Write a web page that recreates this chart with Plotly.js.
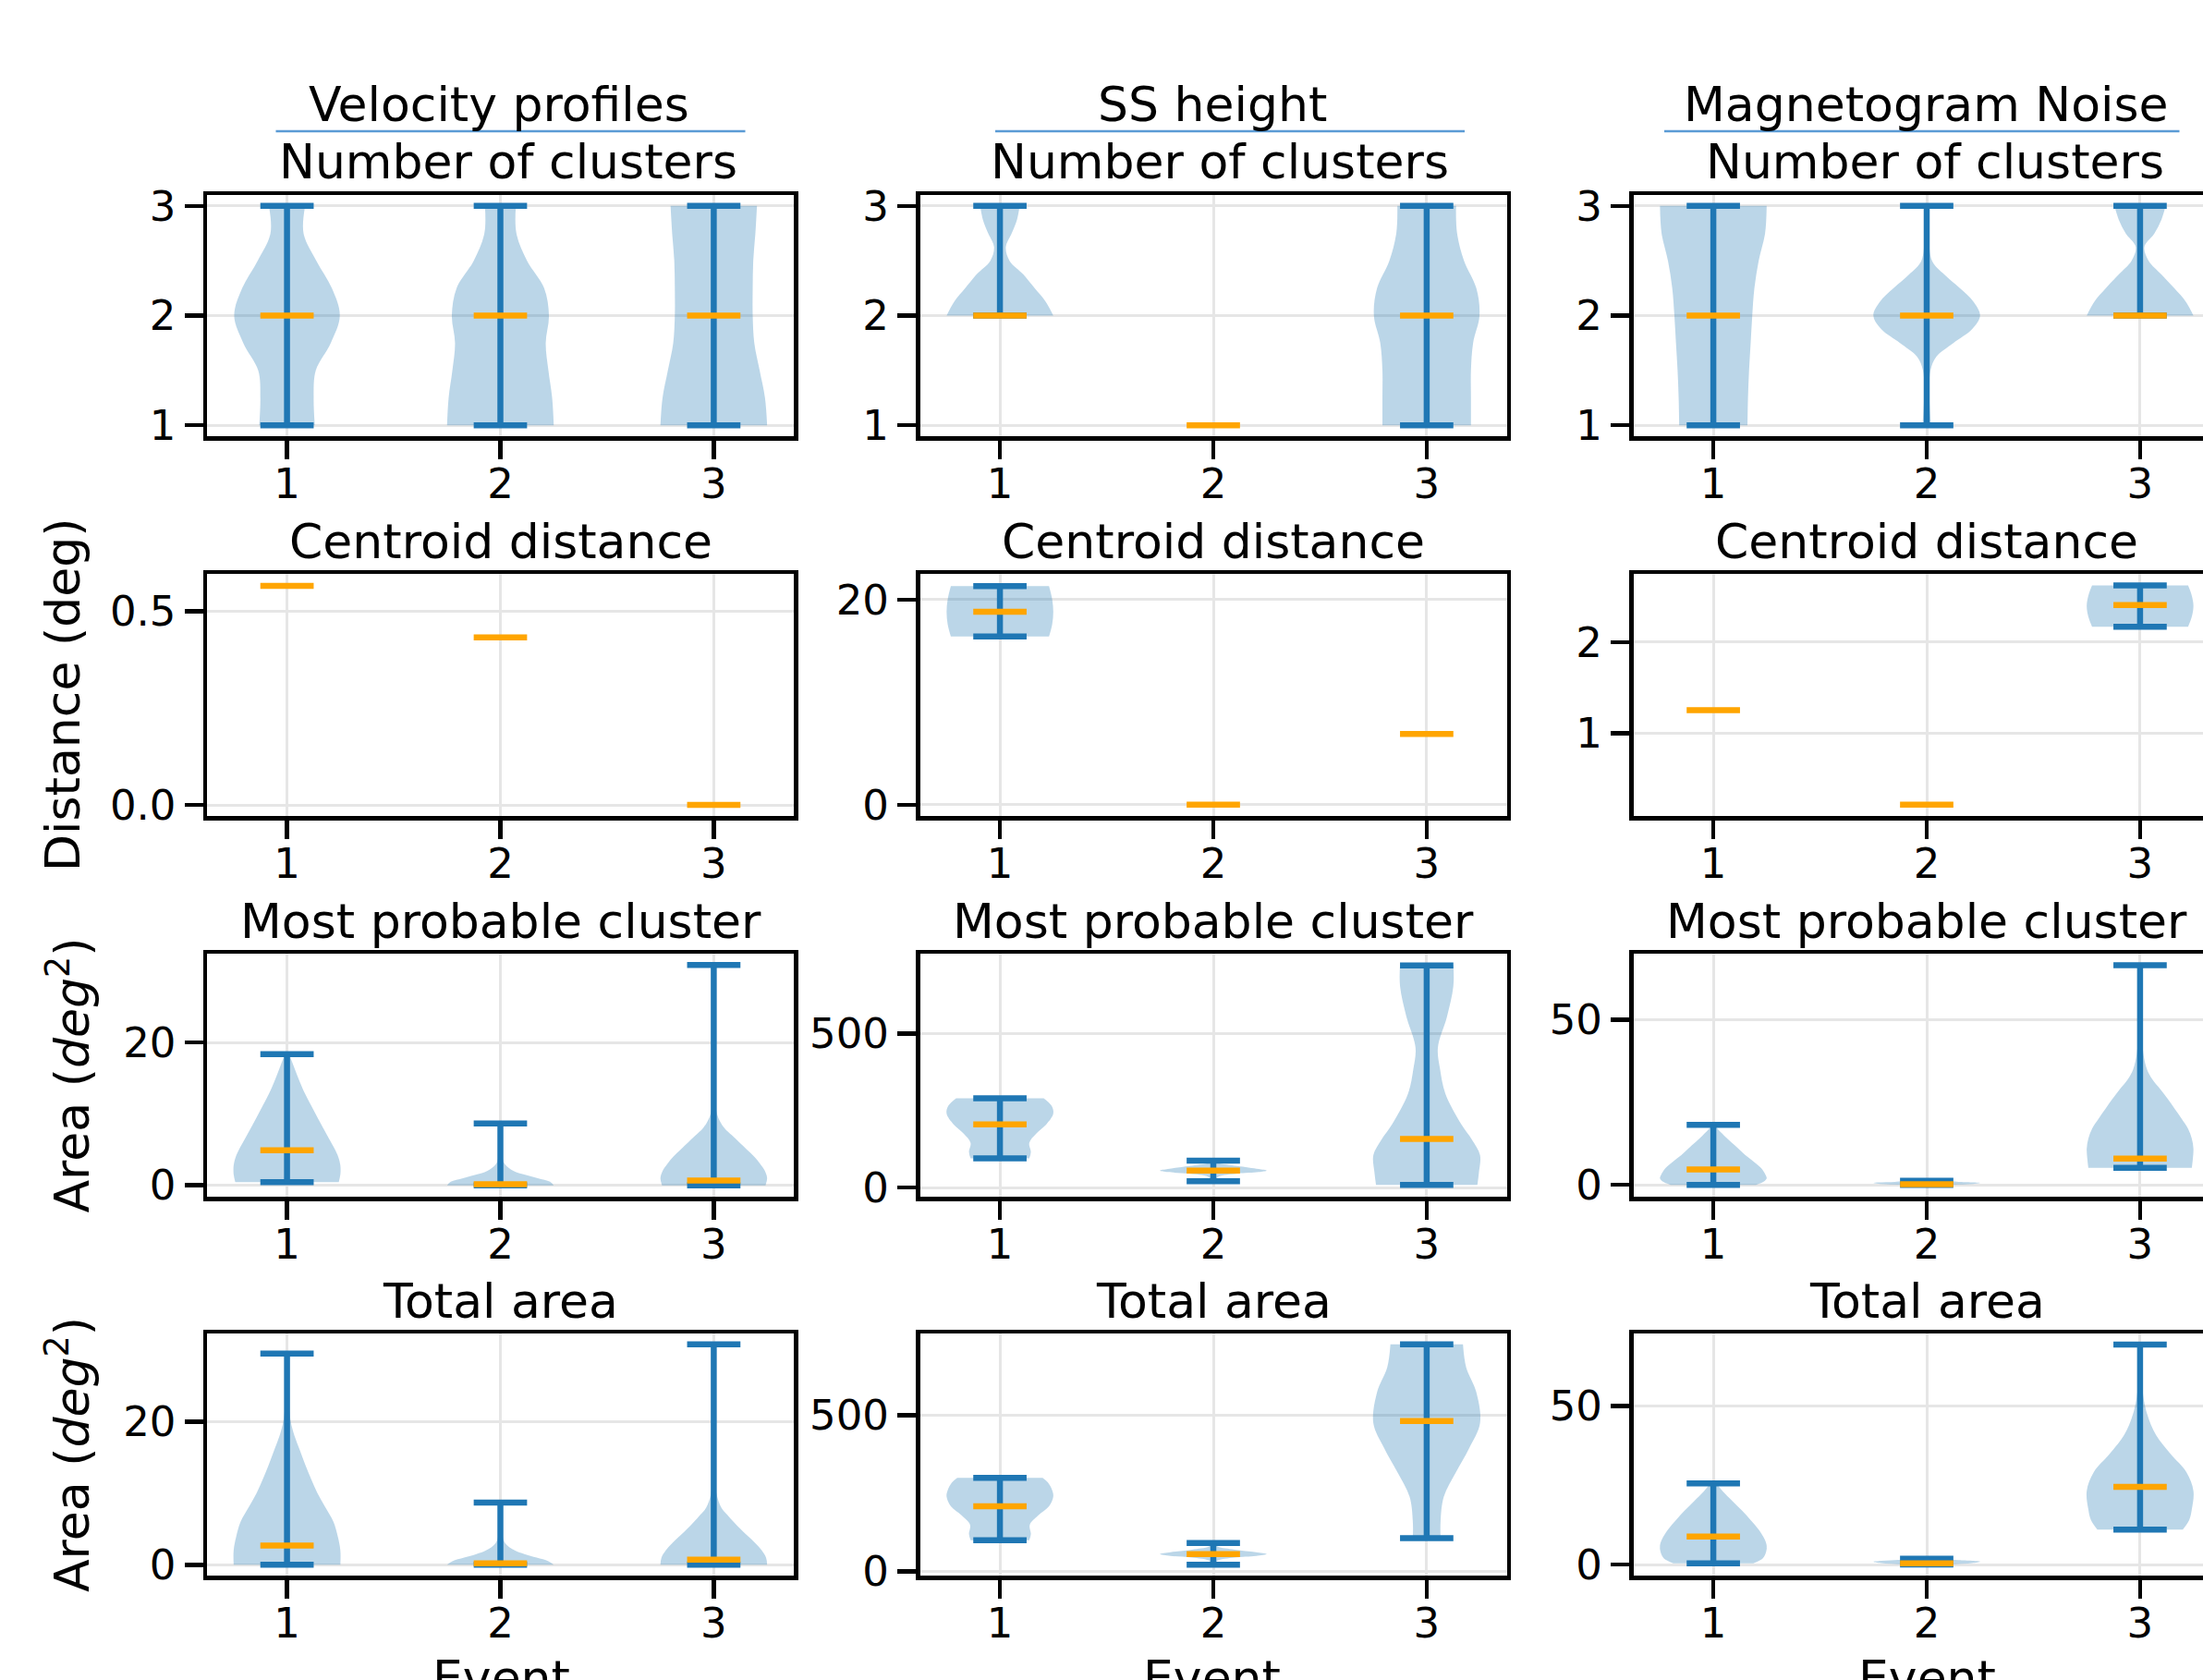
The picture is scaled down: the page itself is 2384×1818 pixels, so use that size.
<!DOCTYPE html>
<html>
<head>
<meta charset="utf-8">
<script src="https://cdn.plot.ly/plotly-3.0.1.min.js"></script>
<style>
html, body { margin: 0; padding: 0; overflow: hidden; background: #fff; }
#chart { width: 2420px; height: 1880px; }
</style>
</head>
<body>
<div id="chart"></div>
<script>
// ---------------- DATA ----------------
const events = [1, 2, 3];
const eventLabels = ['1', '2', '3'];
const methodTitles = ['Velocity profiles', 'SS height', 'Magnetogram Noise'];
const metricTitles = ['Number of clusters', 'Centroid distance', 'Most probable cluster', 'Total area'];
const yAxisLabels = ['', 'Distance (deg)', 'Area (<i>deg</i><sup>2</sup>)', 'Area (<i>deg</i><sup>2</sup>)'];
const xAxisLabel = 'Event';

// Number of clusters
const velClustMin = [1, 1, 1];
const velClustMax = [3, 3, 3];
const velClustMed = [2, 2, 2];
const velClustLevels = [[1, 1.25, 1.5, 1.75, 2, 2.25, 2.5, 2.75, 3], [1, 1.25, 1.5, 1.75, 2, 2.25, 2.5, 2.75, 3], [1, 1.25, 1.5, 1.75, 2, 2.25, 2.5, 2.75, 3]];
const velClustDensity = [[0.52, 0.50, 0.54, 0.82, 0.99, 0.84, 0.55, 0.31, 0.34], [1.0, 0.97, 0.90, 0.85, 0.91, 0.82, 0.50, 0.30, 0.29], [1.0, 0.96, 0.86, 0.76, 0.73, 0.73, 0.74, 0.78, 0.81]];

const ssClustMin = [2, 1, 1];
const ssClustMax = [3, 1, 3];
const ssClustMed = [2, 1, 2];
const ssClustLevels = [[2, 2.125, 2.25, 2.375, 2.5, 2.625, 2.75, 2.875, 3], [], [1, 1.25, 1.5, 1.75, 2, 2.25, 2.5, 2.75, 3]];
const ssClustDensity = [[1.0, 0.86, 0.65, 0.44, 0.18, 0.11, 0.22, 0.32, 0.37], [], [0.83, 0.83, 0.83, 0.87, 0.99, 0.93, 0.70, 0.57, 0.55]];

const magClustMin = [1, 1, 2];
const magClustMax = [3, 3, 3];
const magClustMed = [2, 2, 2];
const magClustLevels = [[1, 1.25, 1.5, 1.75, 2, 2.25, 2.5, 2.75, 3], [1, 1.25, 1.5, 1.625, 1.75, 1.875, 2, 2.125, 2.25, 2.375, 2.5, 2.75, 3], [2, 2.125, 2.25, 2.375, 2.5, 2.625, 2.75, 2.875, 3]];
const magClustDensity = [[0.64, 0.65, 0.67, 0.70, 0.73, 0.77, 0.85, 0.97, 1.0], [0.08, 0.05, 0.07, 0.18, 0.5, 0.85, 1.0, 0.88, 0.62, 0.33, 0.1, 0.04, 0.03], [1.0, 0.86, 0.64, 0.40, 0.16, 0.08, 0.27, 0.40, 0.48]];

// Centroid distance
const velCentMin = [0.565, 0.432, 0];
const velCentMax = [0.565, 0.432, 0];
const velCentMed = [0.565, 0.432, 0];
const velCentLevels = [[], [], []];
const velCentDensity = [[], [], []];

const ssCentMin = [16.4, 0, 6.9];
const ssCentMax = [21.3, 0, 6.9];
const ssCentMed = [18.8, 0, 6.9];
const ssCentLevels = [[16.4, 17.6, 18.8, 20.0, 21.3], [], []];
const ssCentDensity = [[0.92, 0.98, 1.0, 0.98, 0.92], [], []];

const magCentMin = [1.252, 0.214, 2.17];
const magCentMax = [1.252, 0.214, 2.622];
const magCentMed = [1.252, 0.214, 2.408];
const magCentLevels = [[], [], [2.17, 2.28, 2.40, 2.51, 2.622]];
const magCentDensity = [[], [], [0.9, 0.97, 1.0, 0.97, 0.9]];

// Most probable cluster area
const velMpcMin = [0.44, 0, 0];
const velMpcMax = [18.36, 8.66, 30.86];
const velMpcMed = [4.9, 0.15, 0.65];
const velMpcLevels = [[0.44, 1.5, 2.8, 4, 5, 6.5, 8.4, 10.5, 12.8, 14.5, 16.2, 18.36], [0, 0.5, 1.0, 1.5, 2.0, 3.0, 4.5, 6.5, 8.66], [0, 1, 2, 3, 4, 5, 6, 7, 8, 10, 14, 20, 30.86]];
const velMpcDensity = [[0.97, 1.0, 1.0, 0.96, 0.9, 0.79, 0.65, 0.5, 0.34, 0.24, 0.15, 0.04], [1.0, 0.93, 0.7, 0.45, 0.25, 0.08, 0.03, 0.015, 0.01], [0.97, 1.0, 0.96, 0.87, 0.76, 0.62, 0.48, 0.34, 0.2, 0.06, 0.02, 0.01, 0.005]];

const ssMpcMin = [95, 20, 8];
const ssMpcMax = [290, 87, 722];
const ssMpcMed = [205, 55, 158];
const ssMpcLevels = [[95, 115, 145, 175, 205, 240, 265, 290], [20, 35, 45, 50, 55, 60, 70, 80, 87], [8, 50, 105, 155, 205, 305, 385, 455, 555, 655, 722]];
const ssMpcDensity = [[0.55, 0.58, 0.55, 0.68, 0.87, 1.0, 0.97, 0.82], [0.01, 0.1, 0.45, 0.85, 1.0, 0.85, 0.45, 0.08, 0.01], [0.95, 0.98, 1.0, 0.85, 0.65, 0.35, 0.25, 0.21, 0.38, 0.5, 0.5]];

const magMpcMin = [0, 0, 5.15];
const magMpcMax = [18.2, 1.2, 66.6];
const magMpcMed = [4.7, 0.15, 7.96];
const magMpcLevels = [[0, 1, 2, 3, 5, 7, 9, 11, 13, 15, 17, 18.2], [0, 0.3, 0.6, 0.9, 1.2], [5.15, 8, 11, 14, 17, 20, 23, 26, 29, 32, 35, 40, 48, 57, 66.6]];
const magMpcDensity = [[0.8, 0.95, 1.0, 0.98, 0.9, 0.76, 0.6, 0.47, 0.33, 0.2, 0.08, 0.03], [0.3, 0.9, 1.0, 0.6, 0.2], [0.97, 0.99, 1.0, 0.97, 0.9, 0.78, 0.65, 0.52, 0.38, 0.23, 0.13, 0.06, 0.025, 0.015, 0.01]];

// Total area
const velTotMin = [0, 0, 0];
const velTotMax = [29.5, 8.7, 30.8];
const velTotMed = [2.7, 0.2, 0.73];
const velTotLevels = [[0, 2, 4, 6, 8, 10, 12, 14, 16, 18, 20, 24, 29.5], [0, 0.5, 1.0, 1.5, 2.0, 3.0, 4.5, 6.5, 8.7], [0, 1, 2, 3, 4, 5, 6, 7, 8, 10, 14, 20, 30.8]];
const velTotDensity = [[1.0, 1.0, 0.95, 0.87, 0.72, 0.57, 0.45, 0.34, 0.24, 0.14, 0.07, 0.02, 0.01], [1.0, 0.9, 0.68, 0.45, 0.27, 0.09, 0.03, 0.015, 0.01], [1.0, 0.98, 0.9, 0.78, 0.64, 0.5, 0.37, 0.25, 0.14, 0.05, 0.02, 0.01, 0.005]];

const ssTotMin = [100, 22, 107];
const ssTotMax = [300, 91, 727];
const ssTotMed = [209, 56, 482];
const ssTotLevels = [[100, 120, 150, 180, 209, 240, 260, 285, 300], [22, 35, 45, 50, 56, 62, 70, 80, 91], [107, 160, 239, 318, 396, 475, 574, 653, 727]];
const ssTotDensity = [[0.55, 0.58, 0.56, 0.72, 0.92, 1.0, 0.98, 0.9, 0.8], [0.01, 0.08, 0.4, 0.8, 1.0, 0.8, 0.4, 0.08, 0.01], [0.26, 0.26, 0.32, 0.55, 0.8, 1.0, 0.93, 0.74, 0.68]];

const magTotMin = [0.4, 0, 11];
const magTotMax = [25.6, 1.8, 69.4];
const magTotMed = [8.8, 0.4, 24.5];
const magTotLevels = [[0.4, 2, 4, 6, 8, 11, 14, 17, 20, 23, 25.6], [0, 0.45, 0.9, 1.35, 1.8], [11, 14, 17.4, 23.2, 29.1, 34.9, 40.8, 47.6, 54.4, 62, 69.4]];
const magTotDensity = [[0.75, 0.93, 0.99, 1.0, 0.96, 0.85, 0.7, 0.54, 0.36, 0.18, 0.06], [0.3, 0.85, 1.0, 0.6, 0.2], [0.8, 0.92, 0.97, 1.0, 0.87, 0.57, 0.3, 0.13, 0.05, 0.02, 0.01]];

// y-axis tick values / labels
const clustTicks = [1, 2, 3];           const clustTickText = ['1', '2', '3'];
const velCentTicks = [0, 0.5];          const velCentTickText = ['0.0', '0.5'];
const ssCentTicks = [0, 20];            const ssCentTickText = ['0', '20'];
const magCentTicks = [1, 2];            const magCentTickText = ['1', '2'];
const velAreaTicks = [0, 20];           const velAreaTickText = ['0', '20'];
const ssAreaTicks = [0, 500];           const ssAreaTickText = ['0', '500'];
const magAreaTicks = [0, 50];           const magAreaTickText = ['0', '50'];

// ---------------- LAYOUT / STYLE ----------------
const FONT = 'DejaVu Sans, sans-serif';
const W = 2420, H = 1880;
const BLUE = '#1f77b4', ORANGE = '#ffa500', FILL = 'rgba(31,119,180,0.3)';
const HALF = 0.25, CAP = 0.125;
const colBox = [[224, 859], [995.5, 1630.5], [1767.5, 2402.5]];
const rowBox = [[211, 472], [621, 883], [1032, 1295], [1443, 1705]];
const px = v => v / W;
const py = v => 1 - v / H;

const panels = [
  {min: velClustMin, max: velClustMax, med: velClustMed, lev: velClustLevels, den: velClustDensity, tv: clustTicks, tt: clustTickText, range: [0.9, 3.1]},
  {min: ssClustMin, max: ssClustMax, med: ssClustMed, lev: ssClustLevels, den: ssClustDensity, tv: clustTicks, tt: clustTickText, range: [0.9, 3.1]},
  {min: magClustMin, max: magClustMax, med: magClustMed, lev: magClustLevels, den: magClustDensity, tv: clustTicks, tt: clustTickText, range: [0.9, 3.1]},
  {min: velCentMin, max: velCentMax, med: velCentMed, lev: velCentLevels, den: velCentDensity, tv: velCentTicks, tt: velCentTickText, range: [-0.0284, 0.596]},
  {min: ssCentMin, max: ssCentMax, med: ssCentMed, lev: ssCentLevels, den: ssCentDensity, tv: ssCentTicks, tt: ssCentTickText, range: [-1.1, 22.5]},
  {min: magCentMin, max: magCentMax, med: magCentMed, lev: magCentLevels, den: magCentDensity, tv: magCentTicks, tt: magCentTickText, range: [0.09, 2.75]},
  {min: velMpcMin, max: velMpcMax, med: velMpcMed, lev: velMpcLevels, den: velMpcDensity, tv: velAreaTicks, tt: velAreaTickText, range: [-1.6, 32.45]},
  {min: ssMpcMin, max: ssMpcMax, med: ssMpcMed, lev: ssMpcLevels, den: ssMpcDensity, tv: ssAreaTicks, tt: ssAreaTickText, range: [-30, 760]},
  {min: magMpcMin, max: magMpcMax, med: magMpcMed, lev: magMpcLevels, den: magMpcDensity, tv: magAreaTicks, tt: magAreaTickText, range: [-3.6, 70.1]},
  {min: velTotMin, max: velTotMax, med: velTotMed, lev: velTotLevels, den: velTotDensity, tv: velAreaTicks, tt: velAreaTickText, range: [-1.5, 32.3]},
  {min: ssTotMin, max: ssTotMax, med: ssTotMed, lev: ssTotLevels, den: ssTotDensity, tv: ssAreaTicks, tt: ssAreaTickText, range: [-13, 762]},
  {min: magTotMin, max: magTotMax, med: magTotMed, lev: magTotLevels, den: magTotDensity, tv: magAreaTicks, tt: magAreaTickText, range: [-3.5, 72.9]}
];

function axisCommon() {
  return {
    showline: true, mirror: true, linecolor: '#000', linewidth: 4.5,
    ticks: 'outside', ticklen: 20, tickwidth: 4.5, tickcolor: '#000',
    showgrid: true, gridcolor: '#e6e6e6', gridwidth: 3, zeroline: false,
    tickfont: {family: FONT, size: 45, color: '#000'}, fixedrange: true, automargin: false
  };
}

const traces = [];
const layout = {
  width: W, height: H, margin: {l: 0, r: 0, t: 0, b: 0},
  paper_bgcolor: '#fff', plot_bgcolor: '#fff', showlegend: false,
  font: {family: FONT, color: '#000'},
  annotations: [], shapes: []
};

panels.forEach((p, k) => {
  const r = Math.floor(k / 3), c = k % 3;
  const sfx = k === 0 ? '' : String(k + 1);
  const xa = 'x' + sfx, ya = 'y' + sfx;
  layout['xaxis' + sfx] = Object.assign(axisCommon(), {
    domain: [px(colBox[c][0]), px(colBox[c][1])], range: [0.625, 3.375],
    tickvals: events, ticktext: eventLabels, anchor: ya, ticklabelstandoff: -12
  });
  layout['yaxis' + sfx] = Object.assign(axisCommon(), {
    domain: [py(rowBox[r][1]), py(rowBox[r][0])], range: p.range,
    tickvals: p.tv, ticktext: p.tt, anchor: xa
  });

  // violin bodies: left edge then right edge, filled between them
  events.forEach((ev, j) => {
    const lev = p.lev[j], den = p.den[j];
    if (!lev.length) return;
    const common = {type: 'scatter', mode: 'lines', y: lev, xaxis: xa, yaxis: ya, hoverinfo: 'skip',
      line: {width: 0, color: 'rgba(0,0,0,0)', shape: 'spline', smoothing: 1}, showlegend: false};
    traces.push(Object.assign({}, common, {x: den.map(d => ev - HALF * d), fill: 'none'}));
    traces.push(Object.assign({}, common, {x: den.map(d => ev + HALF * d), fill: 'tonextx', fillcolor: FILL}));
  });

  // extrema (blue)
  const bx = [], by = [];
  events.forEach((ev, j) => {
    if (p.max[j] > p.min[j]) {
      bx.push(ev - CAP, ev + CAP, null, ev - CAP, ev + CAP, null, ev, ev, null);
      by.push(p.max[j], p.max[j], null, p.min[j], p.min[j], null, p.min[j], p.max[j], null);
    }
  });
  if (bx.length) traces.push({type: 'scatter', mode: 'lines', x: bx, y: by, xaxis: xa, yaxis: ya,
    line: {color: BLUE, width: 6.5}, hoverinfo: 'skip', showlegend: false});

  // medians (orange)
  const mx = [], my = [];
  events.forEach((ev, j) => {
    mx.push(ev - CAP, ev + CAP, null);
    my.push(p.med[j], p.med[j], null);
  });
  traces.push({type: 'scatter', mode: 'lines', x: mx, y: my, xaxis: xa, yaxis: ya,
    line: {color: ORANGE, width: 6.5}, hoverinfo: 'skip', showlegend: false});
});

// ---------------- TEXT ----------------
function addText(text, xPx, yPx, size, extra) {
  layout.annotations.push(Object.assign({
    text: text, x: px(xPx), y: py(yPx), xref: 'paper', yref: 'paper',
    xanchor: 'center', yanchor: 'middle', showarrow: false,
    borderpad: 0, borderwidth: 0,
    font: {family: FONT, size: size, color: '#000'}
  }, extra || {}));
}

const headerX = [540, 1312, 2084.5];
const underlineX = [[298.5, 806.5], [1077, 1585], [1801, 2358.5]];
methodTitles.forEach((t, c) => {
  addText(t, headerX[c], 113.4, 52);
  layout.shapes.push({type: 'line', xref: 'paper', yref: 'paper',
    x0: px(underlineX[c][0]), x1: px(underlineX[c][1]), y0: py(142), y1: py(142),
    line: {color: '#5b9bd5', width: 2.5}});
});

const metricY = [175, 585.8, 997, 1407.5];
const firstRowX = [550, 1320, 2093.5];
metricTitles.forEach((t, r) => {
  for (let c = 0; c < 3; c++) {
    const xc = r === 0 ? firstRowX[c] : (colBox[c][0] + colBox[c][1]) / 2;
    addText(t, xc, metricY[r], 52);
  }
});

const yLabelRight = [0, 98, 108, 108];
yAxisLabels.forEach((t, r) => {
  if (!t) return;
  addText(t, yLabelRight[r], (rowBox[r][0] + rowBox[r][1]) / 2, 52, {textangle: -90, xanchor: 'right'});
});

const eventX = [542, 1312, 2085];
eventX.forEach(x => addText(xAxisLabel, x, 1816, 52));

Plotly.newPlot('chart', traces, layout, {displayModeBar: false, staticPlot: true});
</script>
</body>
</html>
